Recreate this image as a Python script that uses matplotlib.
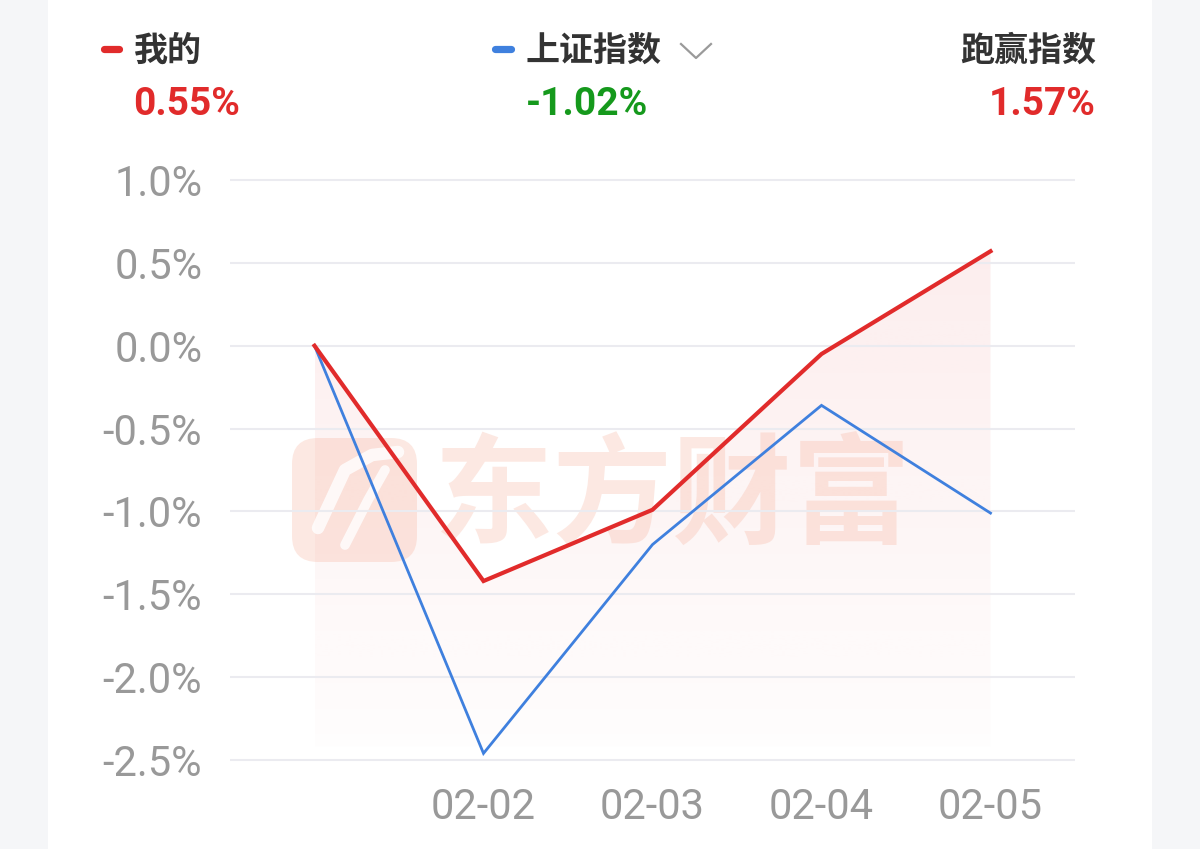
import numpy as np
import matplotlib.pyplot as plt
from matplotlib.transforms import Affine2D
from matplotlib.patches import FancyBboxPatch, Rectangle
from matplotlib.lines import Line2D

plt.rcParams['font.family'] = ['Roboto', 'Noto Sans CJK SC', 'DejaVu Sans']

# data
dates = ['', '02-02', '02-03', '02-04', '02-05']
mine = [0.0, -1.42, -0.99, -0.05, 0.57]
sh_index = [0.0, -2.46, -1.20, -0.36, -1.01]
yticks = [1.0, 0.5, 0.0, -0.5, -1.0, -1.5, -2.0, -2.5]
head_names = ['我的', '上证指数', '跑赢指数']
head_values = ['0.55%', '-1.02%', '1.57%']

RED = '#e12b2b'
BLUE = '#3f80de'
GREEN = '#15991c'
DARK = '#333333'
GRAY = '#999999'

W, H = 1200, 849
fig = plt.figure(figsize=(W / 100, H / 100), dpi=100)
fig.patch.set_facecolor('#f5f6f8')
# pixel coords, origin top-left
pix = Affine2D().scale(0.01, -0.01).translate(0, H / 100) + fig.dpi_scale_trans

fig.patches.append(Rectangle((48, 0), 1104, H, transform=pix, facecolor='white',
                             edgecolor='none', zorder=-10))

# axes placed so that the grid spans x 230..1075 and y 180 (1.0%) .. 760 (-2.5%)
ymin, ymax = -2.5, 1.0
ppu = (760 - 180) / (ymax - ymin)
y_lo, y_hi = ymin - 0.03, ymax + 0.03
top_px = 180 - (y_hi - ymax) * ppu
bot_px = 760 + (ymin - y_lo) * ppu
ax = fig.add_axes([230 / W, 1 - bot_px / H, (1075 - 230) / W, (bot_px - top_px) / H])
ax.set_facecolor('none')
ax.set_xlim(-0.5, 4.5)
ax.set_ylim(y_lo, y_hi)
for s in ax.spines.values():
    s.set_visible(False)

x = np.arange(len(dates))
ax.set_yticks(yticks)
ax.set_yticklabels([f'{v:.1f}%' for v in yticks])
ax.set_xticks(x[1:])
ax.set_xticklabels(dates[1:])
ax.tick_params(axis='both', length=0, labelsize=30, labelcolor=GRAY)
ax.tick_params(axis='y', pad=20)
ax.tick_params(axis='x', pad=16)
ax.set_axisbelow(False)
ax.yaxis.grid(True, color='#ebebf0', lw=1.5, zorder=2)
ax.xaxis.grid(False)

# gradient area under my line
fill_bottom = -2.42
poly = ax.fill_between(x, mine, fill_bottom, color='none', lw=0)
n = 256
grad = np.zeros((n, 1, 4))
grad[:, 0, 0] = 225 / 255
grad[:, 0, 1] = 43 / 255
grad[:, 0, 2] = 43 / 255
grad[:, 0, 3] = np.linspace(0.085, 0.01, n)
im = ax.imshow(grad, extent=[x[0], x[-1], fill_bottom, max(mine)], aspect='auto',
               origin='upper', zorder=1, interpolation='bilinear')
im.set_clip_path(poly.get_paths()[0], transform=ax.transData)

# watermark
wm = '#f6a88f'
logo = FancyBboxPatch((298, 444), 113, 112, boxstyle='round,pad=6,rounding_size=26',
                      transform=pix, facecolor=wm, edgecolor='none', alpha=0.26,
                      zorder=1.5, clip_on=False)
ax.add_patch(logo)
ax.add_line(Line2D([318, 345, 372, 398], [528, 470, 455, 452], transform=pix,
                   color='white', lw=9, alpha=0.8, solid_capstyle='round', zorder=1.6))
ax.add_line(Line2D([345, 368, 385], [545, 500, 470], transform=pix,
                   color='white', lw=7, alpha=0.8, solid_capstyle='round', zorder=1.6))
ax.text(672, 500, '东方财富', transform=pix, fontsize=86, fontweight='bold',
        family=['Noto Sans CJK SC'], color=wm, alpha=0.26, ha='center', va='center',
        zorder=1.5)

ax.plot(x, sh_index, color=BLUE, lw=2.0, zorder=3, solid_joinstyle='miter')
ax.plot(x, mine, color=RED, lw=3.0, zorder=4, solid_joinstyle='miter')

# header
cjk = ['Noto Sans CJK SC', 'DejaVu Sans']
fig.lines.append(Line2D([103.5, 118.5], [49, 49], transform=pix, color=RED, lw=5.2,
                        solid_capstyle='round'))
fig.lines.append(Line2D([495, 511], [49, 49], transform=pix, color=BLUE, lw=5.2,
                        solid_capstyle='round'))
fig.lines.append(Line2D([681, 696, 711], [44, 58, 44], transform=pix, color='#9a9a9a',
                        lw=1.6))
fig.text(134, 50, head_names[0], transform=pix, fontsize=24.5, fontweight='bold',
         family=cjk, color=DARK, ha='left', va='center')
fig.text(526, 50, head_names[1], transform=pix, fontsize=24.5, fontweight='bold',
         family=cjk, color=DARK, ha='left', va='center')
fig.text(1096, 50, head_names[2], transform=pix, fontsize=24.5, fontweight='bold',
         family=cjk, color=DARK, ha='right', va='center')
fig.text(133, 115, head_values[0], transform=pix, fontsize=28, fontweight='bold',
         color=RED, ha='left', va='baseline')
fig.text(526, 115, head_values[1], transform=pix, fontsize=28, fontweight='bold',
         color=GREEN, ha='left', va='baseline')
fig.text(1096, 115, head_values[2], transform=pix, fontsize=28, fontweight='bold',
         color=RED, ha='right', va='baseline')

fig.savefig('out.png', dpi=100, facecolor=fig.get_facecolor())
